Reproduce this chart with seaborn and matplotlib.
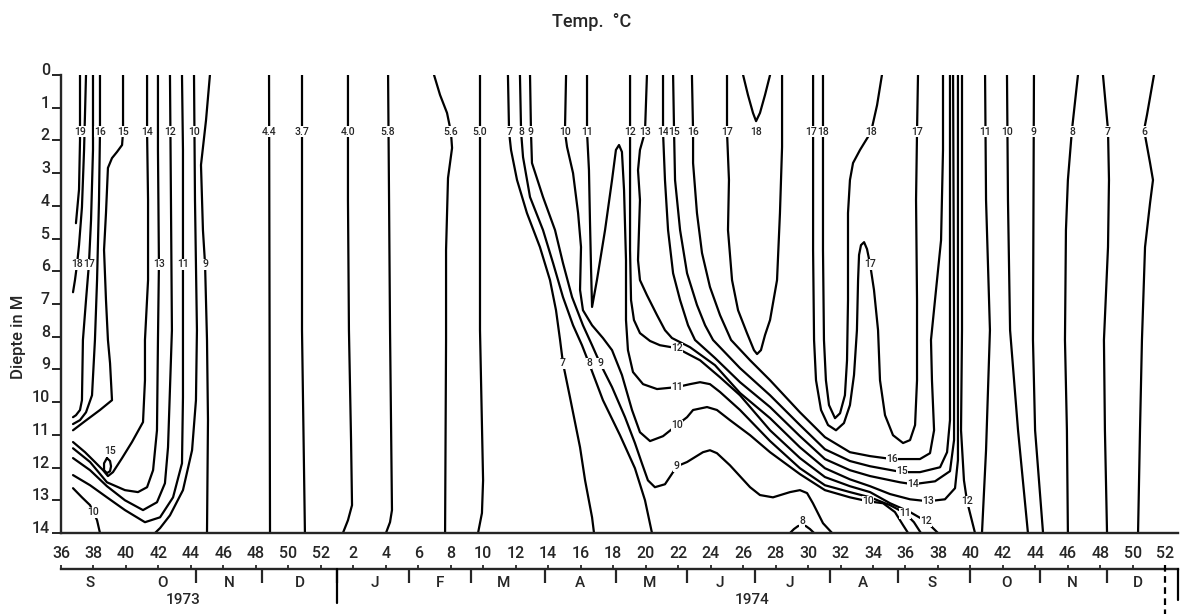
import matplotlib
matplotlib.use("Agg")
import matplotlib.pyplot as plt
import seaborn as sns
import pandas as pd

# ---------------- isotherm data (week index, depth in m) ----------------
# week index: 36..52 = 1973 weeks, 52 + w = 1974 week w
w_19 = [37.17, 37.17, 37.11, 36.92]
d_19 = [0, 2.0, 3.5, 4.53]
w_18a = [37.54, 37.42, 37.29, 37.11, 36.99, 36.86, 36.74]
d_18a = [0, 2.29, 4.04, 5.2, 5.78, 6.27, 6.64]
w_17a = [37.97, 37.97, 37.85, 37.72, 37.54, 37.35, 37.29, 37.17, 36.92, 36.74]
d_17a = [0, 2.29, 4.43, 5.78, 6.88, 8.1, 9.94, 10.24, 10.4, 10.46]
w_16a = [38.4, 38.4, 38.34, 38.22, 38.09, 37.91, 37.54, 37.17, 36.74]
d_16a = [0, 1.74, 3.82, 6.27, 8.1, 9.79, 10.31, 10.55, 10.67]
w_15a = [39.82, 39.82, 39.76, 39.45, 39.14, 38.89, 38.77, 38.65, 38.77, 38.89, 39.02, 39.14, 38.4, 37.48, 36.74]
d_15a = [0, 1.74, 2.14, 2.35, 2.54, 2.84, 4.22, 5.35, 6.88, 8.1, 8.81, 9.94, 10.24, 10.58, 10.86]
w_15loop = [38.83, 39.02, 39.08, 39.02, 38.83, 38.65, 38.65, 38.83]
d_15loop = [11.71, 11.8, 11.96, 12.11, 12.17, 12.08, 11.87, 11.71]
w_14a = [36.74, 37.48, 38.09, 38.59, 38.89, 39.2, 39.76, 40.37, 41.05, 41.17, 41.17, 41.36, 41.36, 41.3, 41.3]
d_14a = [11.22, 11.53, 11.83, 12.08, 12.26, 12.14, 11.71, 11.22, 10.61, 9.33, 8.1, 6.27, 3.82, 1.74, 0]
w_13a = [36.74, 37.79, 38.83, 39.94, 40.74, 41.3, 41.67, 41.91, 41.97, 42.03, 41.97, 41.97]
d_13a = [11.41, 11.83, 12.45, 12.69, 12.75, 12.6, 12.08, 10.86, 8.1, 5.78, 2.29, 0]
w_12a = [36.74, 37.79, 38.83, 39.94, 41.05, 41.91, 42.4, 42.59, 42.83, 42.77, 42.71]
d_12a = [11.71, 12.08, 12.57, 13.0, 13.3, 13.06, 12.48, 11.38, 7.8, 3.82, 0]
w_11a = [36.74, 37.79, 38.83, 39.94, 41.17, 42.1, 42.9, 43.45, 43.51, 43.51, 43.51, 43.45]
d_11a = [12.23, 12.54, 12.91, 13.3, 13.67, 13.52, 12.91, 11.87, 9.85, 5.78, 2.29, 0]
w_10a = [44.19, 44.25, 44.37, 44.31, 44.07, 43.51, 42.71, 42.1, 41.79]
d_10a = [0, 3.82, 7.8, 9.94, 11.47, 12.69, 13.46, 13.85, 14.0]
w_10b = [36.74, 37.29, 37.79, 38.22, 38.4]
d_10b = [12.63, 12.91, 13.15, 13.61, 14.0]
w_9a = [45.17, 44.93, 44.62, 44.74, 44.87, 44.99, 45.05, 44.99]
d_9a = [0, 1.38, 2.75, 4.74, 5.78, 8.1, 10.55, 14.0]
w_44 = [48.81, 48.87]
d_44 = [0, 14.0]
w_37 = [50.84, 50.84, 51.02]
d_37 = [0, 7.8, 14.0]
w_40 = [53.67, 53.67, 53.73, 53.86, 53.92, 53.67, 53.36]
d_40 = [0, 3.82, 7.8, 11.16, 13.15, 13.61, 14.0]
w_58 = [56.14, 56.2, 56.26, 56.38, 56.26, 56.01]
d_58 = [0, 3.82, 7.8, 13.3, 13.67, 14.0]
w_56 = [58.97, 59.34, 59.77, 60.01, 60.08, 59.83, 59.71, 59.71, 59.65]
d_56 = [0, 0.61, 1.16, 1.74, 2.23, 3.15, 5.35, 8.1, 14.0]
w_50 = [61.8, 61.8, 61.99, 61.92, 61.68]
d_50 = [0, 7.8, 12.39, 13.39, 14.0]
w_7b = [63.52, 63.59, 63.71, 64.08, 64.69, 65.49, 66.11, 66.48, 66.73, 66.91, 67.34, 67.96, 68.27, 68.7, 68.82]
d_7b = [0, 1.74, 2.29, 3.21, 4.22, 5.26, 6.27, 7.19, 8.1, 8.81, 9.85, 11.38, 12.39, 13.52, 14.0]
w_8b = [64.26, 64.33, 64.45, 64.88, 65.68, 66.3, 66.91, 67.53, 68.08, 68.51, 69.37, 70.42, 71.34, 71.96, 72.39]
d_8b = [0, 1.74, 2.51, 3.73, 4.74, 5.75, 6.79, 7.65, 8.26, 8.81, 9.94, 11.01, 12.02, 13.0, 14.0]
w_9b = [64.88, 64.94, 65.0, 65.68, 66.42, 66.91, 67.47, 68.14, 68.7, 69.19, 69.93, 70.73, 71.34, 71.77,
        72.14, 72.57, 73.19, 73.93, 74.55, 75.53, 75.96, 76.39, 77.19, 78.43, 79.04, 79.84, 80.89, 81.5,
        81.94, 82.3, 82.92, 83.48]
d_9b = [0, 1.74, 2.69, 3.73, 4.74, 5.75, 6.79, 7.65, 8.26, 8.81, 9.54, 10.46, 11.25, 11.87, 12.39, 12.6,
        12.51, 11.96, 11.83, 11.53, 11.47, 11.56, 11.93, 12.6, 12.84, 12.91, 12.75, 12.69, 12.78, 13.09,
        13.7, 14.0]
w_10c = [67.1, 67.03, 67.16, 67.53, 67.84, 68.02, 67.96, 68.14, 68.7, 69.37, 69.93, 70.54, 71.16, 71.65,
         72.27, 73.07, 73.93, 74.55, 74.92, 75.78, 76.39, 77.19, 78.43, 79.66, 81.5, 83.04, 84.58, 85.69,
         86.62, 87.35, 87.85, 88.16]
d_10c = [0, 1.74, 2.2, 3.0, 4.22, 5.26, 6.57, 7.19, 7.65, 8.04, 8.41, 9.17, 10.24, 10.92, 11.19, 11.04,
         10.7, 10.46, 10.24, 10.15, 10.24, 10.55, 11.01, 11.53, 12.2, 12.69, 12.91, 13.03, 13.09, 13.36,
         13.76, 14.0]
w_11b = [68.39, 68.39, 68.51, 68.57, 68.64, 68.7, 69.0, 69.5, 69.93, 70.17, 70.36, 70.54, 70.67, 70.79,
         70.79, 70.91, 71.22, 71.84, 72.7, 73.93, 74.73, 75.35, 75.96, 76.58, 77.81, 79.66, 81.5, 83.04,
         84.58, 85.82, 87.05, 87.97, 88.52, 88.95]
d_11b = [0, 1.74, 2.91, 4.43, 5.96, 7.09, 6.27, 4.74, 3.21, 2.29, 2.14, 2.35, 3.52, 5.66, 7.49, 8.41,
         9.08, 9.45, 9.6, 9.54, 9.45, 9.39, 9.45, 9.69, 10.24, 11.19, 12.02, 12.54, 12.75, 12.91, 13.15,
         13.39, 13.67, 14.0]
w_12b = [71.04, 71.04, 71.04, 71.1, 71.28, 71.65, 72.27, 72.88, 73.93, 75.35, 76.58, 77.81, 79.66, 81.5,
         83.04, 84.58, 85.82, 87.05, 88.28, 89.26, 90.0]
d_12b = [0, 1.74, 5.35, 6.88, 7.49, 7.89, 8.13, 8.26, 8.35, 8.72, 9.24, 9.79, 10.86, 11.71, 12.29, 12.57,
         12.75, 13.09, 13.36, 13.64, 14.0]
w_13b = [72.08, 71.96, 71.65, 71.53, 71.65, 71.53, 71.65, 72.08, 72.7, 73.19, 73.62, 74.73, 76.27, 77.81,
         79.66, 81.5, 83.04, 84.58, 85.82, 87.05, 88.28, 89.39, 90.43, 91.05, 91.23, 91.23, 91.23]
d_13b = [0, 1.74, 2.29, 2.91, 3.82, 5.66, 6.27, 6.73, 7.34, 7.8, 8.04, 8.32, 8.87, 9.72, 10.49, 11.38,
         12.02, 12.36, 12.57, 12.81, 12.97, 13.03, 12.97, 12.63, 11.77, 7.8, 0]
w_14b = [73.07, 73.07, 73.19, 73.38, 73.69, 74.12, 74.61, 75.04, 76.27, 77.81, 79.66, 81.5, 83.04, 84.58,
         85.82, 87.66, 88.46, 89.82, 90.74, 90.99, 90.99, 90.93]
d_14b = [0, 1.74, 3.21, 4.74, 6.06, 6.88, 7.65, 8.1, 8.65, 9.39, 10.15, 11.04, 11.74, 12.08, 12.26, 12.45,
         12.51, 12.42, 12.11, 11.16, 7.8, 0]
w_15b = [73.69, 73.75, 73.81, 74.12, 74.55, 75.16, 75.66, 76.15, 77.81, 79.66, 81.5, 83.04, 84.58, 85.82,
         87.79, 88.89, 90.13, 90.56, 90.74, 90.74, 90.74]
d_15b = [0, 1.74, 3.21, 4.74, 6.06, 7.03, 7.65, 8.1, 8.96, 9.79, 10.7, 11.44, 11.8, 11.96, 12.14, 12.14,
         11.99, 11.53, 10.55, 6.88, 0]
w_16b = [74.85, 74.92, 74.92, 75.16, 75.47, 75.96, 76.58, 77.26, 78.43, 79.66, 81.5, 83.04, 84.58, 85.82,
         87.17, 88.89, 89.51, 89.76, 89.63, 89.57, 89.88, 90.19, 90.31, 90.31]
d_16b = [0, 1.74, 2.69, 4.22, 5.44, 6.48, 7.34, 8.1, 8.72, 9.33, 10.31, 11.07, 11.53, 11.65, 11.74, 11.74,
         11.56, 10.86, 9.33, 8.1, 6.57, 5.05, 2.29, 0]
w_17v = [77.01, 77.01, 77.13, 77.07, 77.32, 77.69, 78.24, 78.67, 78.86, 79.1, 79.35, 79.66, 80.09, 80.27,
         80.4, 80.4]
d_17v = [0, 1.74, 3.21, 4.74, 6.27, 7.19, 7.89, 8.41, 8.53, 8.41, 7.95, 7.49, 6.27, 4.22, 2.2, 0]
w_18v = [78.0, 78.3, 78.61, 78.8, 79.04, 79.35, 79.66]
d_18v = [0, 0.61, 1.16, 1.41, 1.16, 0.61, 0]
w_17w = [82.31, 82.31, 82.31, 82.37, 82.49, 82.8, 83.23, 83.72, 84.21, 84.58, 84.83, 85.01, 85.08, 85.14,
         85.26, 85.45, 85.63, 85.82, 86.06, 86.31, 86.43, 86.74, 87.23, 87.85, 88.28, 88.59, 88.71, 88.71,
         88.65, 88.71, 88.77]
d_17w = [0, 1.74, 5.35, 8.1, 9.33, 10.24, 10.7, 10.86, 10.64, 10.09, 9.17, 7.8, 6.27, 5.5, 5.2, 5.11,
         5.32, 5.78, 6.57, 7.8, 9.33, 10.4, 11.01, 11.25, 11.16, 10.7, 9.33, 6.88, 3.82, 1.74, 0]
w_18u = [82.92, 82.92, 82.92, 82.98, 83.1, 83.29, 83.66, 83.97, 84.27, 84.4, 84.46, 84.46, 84.58, 84.77,
         85.2, 85.57, 85.88, 86.25, 86.55]
d_18u = [0, 1.74, 5.35, 8.1, 9.33, 10.09, 10.49, 10.34, 9.79, 8.72, 6.88, 4.22, 3.21, 2.69, 2.29, 1.99,
         1.74, 0.92, 0]
w_8bump = [80.89, 81.13, 81.38, 81.63, 81.87, 82.12, 82.37]
d_8bump = [14.0, 13.88, 13.79, 13.76, 13.79, 13.88, 14.0]
w_12c = [91.48, 91.48, 91.42, 91.6, 91.79, 92.28]
d_12c = [0, 7.8, 10.86, 12.39, 13.03, 14.0]
w_11r = [92.9, 92.96, 93.2, 92.96, 92.71]
d_11r = [0, 3.82, 7.8, 11.47, 14.0]
w_10r = [94.25, 94.31, 94.44, 94.93, 95.54]
d_10r = [0, 3.82, 7.8, 10.86, 14.0]
w_9r = [95.91, 95.85, 95.98, 96.47]
d_9r = [0, 8.1, 10.86, 14.0]
w_8r = [98.62, 98.25, 98.0, 97.88, 97.82, 97.94, 98.0]
d_8r = [0, 1.68, 3.21, 4.74, 8.1, 10.86, 14.0]
w_7r = [100.16, 100.47, 100.53, 100.47, 100.22, 100.28, 100.41]
d_7r = [0, 1.68, 3.21, 5.26, 8.1, 10.86, 14.0]
w_6r = [103.3, 102.87, 102.69, 103.06, 103.24, 103.06, 102.75, 102.56, 102.44, 102.32]
d_6r = [0, 1.22, 1.68, 2.69, 3.21, 3.91, 5.26, 8.1, 10.86, 14.0]

# isotherm labels
lab_text = ["19", "16", "15", "14", "12", "10", "4.4", "3.7", "4.0", "5.8", "5.6", "5.0",
            "7", "8", "9", "10", "11", "12", "13", "14", "15", "16", "17", "18", "17", "18",
            "18", "17", "11", "10", "9", "8", "7", "6",
            "18", "17", "13", "11", "9", "15", "10",
            "7", "8", "9", "12", "11", "10", "9", "17",
            "16", "15", "14", "13", "12", "11", "10", "8", "12"]
lab_week = [37.17, 38.4, 39.82, 41.3, 42.71, 44.19, 48.81, 50.84, 53.67, 56.14, 60.01, 61.8,
            63.59, 64.33, 64.94, 67.03, 68.39, 71.04, 71.96, 73.07, 73.75, 74.92, 77.01, 78.8, 82.2, 82.95,
            85.88, 88.71, 92.9, 94.25, 95.91, 98.25, 100.47, 102.69,
            36.99, 37.72, 42.03, 43.51, 44.87, 39.02, 37.97,
            66.91, 68.51, 69.19, 73.93, 73.93, 73.93, 73.93, 85.82,
            87.17, 87.79, 88.46, 89.39, 89.26, 87.97, 85.69, 81.63, 91.79]
lab_depth = [1.74] * 34 + [5.78] * 5 + [11.5, 13.36] + [8.81, 8.81, 8.81, 8.35, 9.54, 10.7, 11.96, 5.78] + \
            [11.74, 12.12, 12.51, 13.03, 13.64, 13.39, 13.03, 13.64, 13.03]

# axis texts
week_ticks = list(range(36, 105, 2))
week_labels = [str(w) for w in range(36, 53, 2)] + [str(w) for w in range(2, 53, 2)]
month_names = ["S", "O", "N", "D", "J", "F", "M", "A", "M", "J", "J", "A", "S", "O", "N", "D"]
month_centers = [37.79, 42.22, 46.34, 50.72, 55.34, 59.34, 63.28, 67.96, 72.27, 76.58, 80.89, 85.38,
                 89.63, 94.19, 98.25, 102.32]
month_bounds = [40.0, 44.31, 48.38, 53.0, 57.43, 61.25, 65.8, 70.17, 74.55, 78.73, 83.35, 87.54,
                91.97, 96.28, 100.41]
years = ["1973", "1974"]
year_pos = [43.5, 78.55]

lines = [(w_19, d_19), (w_18a, d_18a), (w_17a, d_17a), (w_16a, d_16a), (w_15a, d_15a),
         (w_15loop, d_15loop), (w_14a, d_14a), (w_13a, d_13a), (w_12a, d_12a), (w_11a, d_11a),
         (w_10a, d_10a), (w_10b, d_10b), (w_9a, d_9a), (w_44, d_44), (w_37, d_37), (w_40, d_40),
         (w_58, d_58), (w_56, d_56), (w_50, d_50), (w_7b, d_7b), (w_8b, d_8b), (w_9b, d_9b),
         (w_10c, d_10c), (w_11b, d_11b), (w_12b, d_12b), (w_13b, d_13b), (w_14b, d_14b),
         (w_15b, d_15b), (w_16b, d_16b), (w_17v, d_17v), (w_18v, d_18v), (w_17w, d_17w),
         (w_18u, d_18u), (w_8bump, d_8bump), (w_12c, d_12c), (w_11r, d_11r), (w_10r, d_10r),
         (w_9r, d_9r), (w_8r, d_8r), (w_7r, d_7r), (w_6r, d_6r)]

rows = []
for i, (ws, ds) in enumerate(lines):
    for j, (w, d) in enumerate(zip(ws, ds)):
        rows.append({"line": i, "order": j, "week": w, "depth": d})
df = pd.DataFrame(rows)

# ---------------- drawing ----------------
sns.set_style("ticks")
plt.rcParams["font.family"] = ["Roboto", "DejaVu Sans"]

fig = plt.figure(figsize=(11.83, 6.14), dpi=100)
ax = fig.add_axes([61 / 1183, 81 / 614, 1117 / 1183, 458 / 614])

sns.lineplot(data=df, x="week", y="depth", units="line", estimator=None, sort=False,
             color="black", linewidth=1.6, legend=False, ax=ax,
             solid_joinstyle="round", solid_capstyle="round")

for t, w, d in zip(lab_text, lab_week, lab_depth):
    ax.text(w, d, t, ha="center", va="center", fontsize=7.5, fontweight="medium", zorder=5,
            bbox=dict(facecolor="white", edgecolor="none", pad=0.4))

ax.set_xlim(36, 104.78)
ax.set_ylim(14, 0)
for s in ["top", "right"]:
    ax.spines[s].set_visible(False)
for s in ["left", "bottom"]:
    ax.spines[s].set_linewidth(1.7)

ax.set_yticks(range(15))
ax.set_yticklabels([str(i) for i in range(15)])
ax.tick_params(axis="y", length=6.5, width=1.4, pad=1.5, labelsize=11.5)
for lbl in ax.get_yticklabels():
    lbl.set_verticalalignment("baseline")
    lbl.set_fontweight("medium")

ax.set_xticks(week_ticks)
ax.set_xticklabels(week_labels)
ax.tick_params(axis="x", length=0, pad=9.2, labelsize=11.5)
for lbl in ax.get_xticklabels():
    lbl.set_fontweight("medium")

ax.set_xlabel("")
ax.set_ylabel("Diepte in M", fontsize=12, fontweight="medium")
ax.yaxis.set_label_coords(-0.031, 0.428)

# month scale
sec = ax.secondary_xaxis(-0.0786)
sec.set_xticks(week_ticks)
sec.set_xticklabels([])
sec.set_xticks(month_bounds, minor=True)
sec.tick_params(which="major", direction="in", length=3, width=1.3)
sec.tick_params(which="minor", direction="out", length=10, width=1.6)
sec.spines["bottom"].set_linewidth(1.7)

tr = ax.get_xaxis_transform()
for m, c in zip(month_names, month_centers):
    ax.text(c, -0.109, m, transform=tr, ha="center", va="center", fontsize=11, fontweight="medium")
for y, c in zip(years, year_pos):
    ax.text(c, -0.146, y, transform=tr, ha="center", va="center", fontsize=11, fontweight="medium")

ax.axvline(53.0, ymin=-0.0786, ymax=-0.153, color="black", lw=1.6, clip_on=False)
ax.axvline(104.78, ymin=-0.0786, ymax=-0.146, color="black", lw=1.6, clip_on=False)
ax.axvline(104.0, ymin=-0.07, ymax=-0.18, color="black", lw=1.6, ls=(0, (3, 2)), clip_on=False)

fig.text(592 / 1183, 1 - 22 / 614, "Temp.  °C", ha="center", va="center", fontsize=13,
         fontweight="medium")

fig.savefig("out.png", dpi=100, facecolor="white")
